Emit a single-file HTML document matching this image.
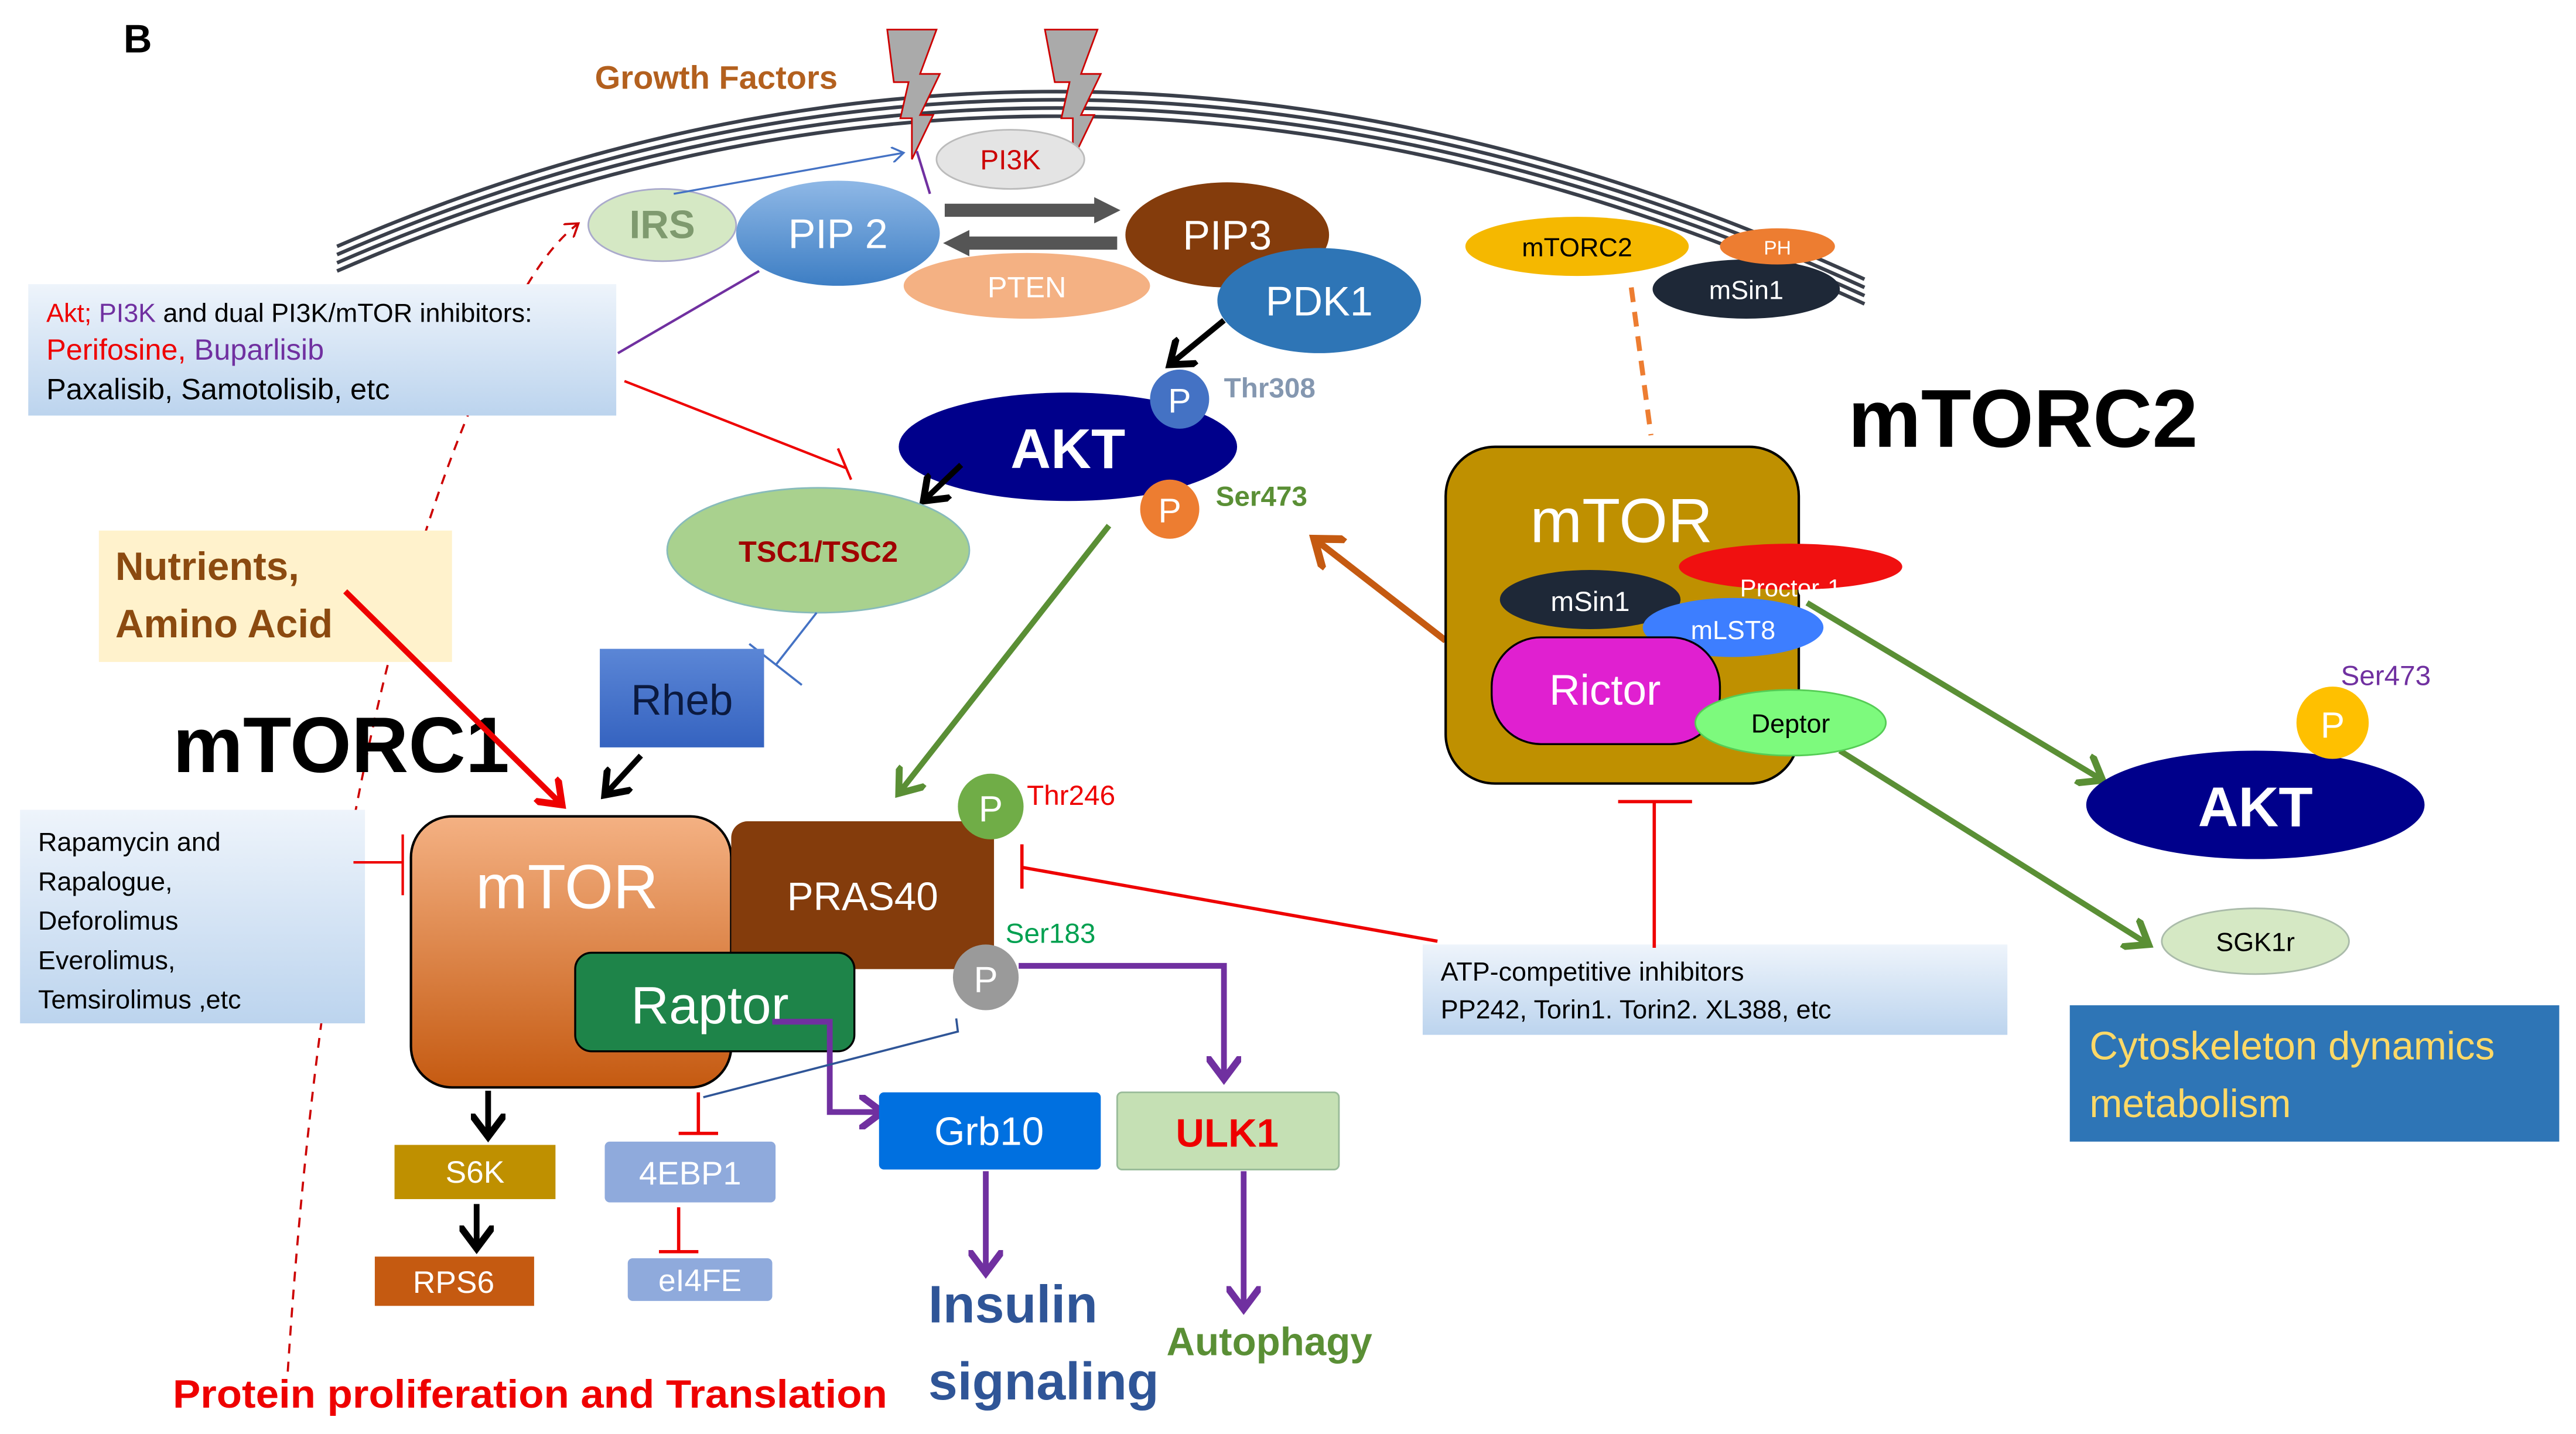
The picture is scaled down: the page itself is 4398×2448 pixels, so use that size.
<!DOCTYPE html>
<html><head><meta charset="utf-8"><style>
html,body{margin:0;padding:0;background:#fff}
svg{display:block}
text{font-family:"Liberation Sans",sans-serif}
</style></head><body>
<svg width="4398" height="2448" viewBox="0 0 1568 873" xmlns="http://www.w3.org/2000/svg">
<defs>
<marker id="ab" markerWidth="6" markerHeight="6" refX="4" refY="3" orient="auto" markerUnits="strokeWidth"><path d="M0,0 L4,3 L0,6" fill="none" stroke="#000" stroke-width="1.2"/></marker>
<marker id="ar" markerWidth="6" markerHeight="6" refX="4" refY="3" orient="auto" markerUnits="strokeWidth"><path d="M0,0 L4,3 L0,6" fill="none" stroke="#e00" stroke-width="1.2"/></marker>
<marker id="ag" markerWidth="6" markerHeight="6" refX="4" refY="3" orient="auto" markerUnits="strokeWidth"><path d="M0,0 L4,3 L0,6" fill="none" stroke="#5a8f35" stroke-width="1.2"/></marker>
<marker id="ap" markerWidth="6" markerHeight="6" refX="4" refY="3" orient="auto" markerUnits="strokeWidth"><path d="M0,0 L4,3 L0,6" fill="none" stroke="#7030a0" stroke-width="1.2"/></marker>
<marker id="ao" markerWidth="6" markerHeight="6" refX="4" refY="3" orient="auto" markerUnits="strokeWidth"><path d="M0,0 L4,3 L0,6" fill="none" stroke="#c55a11" stroke-width="1.2"/></marker>
<marker id="abl" markerWidth="8" markerHeight="8" refX="6" refY="4" orient="auto" markerUnits="strokeWidth"><path d="M0,0 L6,4 L0,8" fill="none" stroke="#4472c4" stroke-width="1"/></marker>
<marker id="ard" markerWidth="8" markerHeight="8" refX="6" refY="4" orient="auto" markerUnits="strokeWidth"><path d="M0,0 L6,4 L0,8" fill="none" stroke="#c00" stroke-width="1"/></marker>
<linearGradient id="lb" x1="0" y1="0" x2="0" y2="1"><stop offset="0" stop-color="#eef4fb"/><stop offset="1" stop-color="#bcd4ee"/></linearGradient>
<linearGradient id="mo" x1="0" y1="0" x2="0" y2="1"><stop offset="0" stop-color="#f4b183"/><stop offset="1" stop-color="#c55a11"/></linearGradient>
<linearGradient id="pb" x1="0" y1="0" x2="0" y2="1"><stop offset="0" stop-color="#8fb8e6"/><stop offset="1" stop-color="#3d7ec4"/></linearGradient>
<linearGradient id="rb" x1="0" y1="0" x2="0" y2="1"><stop offset="0" stop-color="#5b86d6"/><stop offset="1" stop-color="#3563c0"/></linearGradient>
</defs>

<text x="75" y="32" font-size="24" font-weight="bold">B</text>

<g fill="none" stroke="#3a3f4a" stroke-width="2.2">
<path d="M205,150 Q660,-48 1135,170"/>
<path d="M205,155 Q660,-43 1135,175"/>
<path d="M205,160 Q660,-38 1135,180"/>
<path d="M205,165 Q660,-33 1135,185"/>
</g>
<path d="M540,18 L570,18 L560,45 L572,45 L560,70 L568,70 L555,97 L555,72 L548,72 L553,50 L544,50 Z" fill="#aaa" stroke="#c00" stroke-width="1"/>
<path d="M636,18 L668,18 L658,45 L670,45 L658,70 L666,70 L653,97 L653,72 L646,72 L651,50 L642,50 Z" fill="#aaa" stroke="#c00" stroke-width="1"/>
<text x="362" y="54" font-size="20" font-weight="bold" fill="#b3601e">Growth Factors</text>

<ellipse cx="615" cy="97" rx="45" ry="18" fill="#e4e4e4" stroke="#bbb"/>
<text x="615" y="103" font-size="17" fill="#c00" text-anchor="middle">PI3K</text>
<ellipse cx="403" cy="137" rx="45" ry="22" fill="#d5e8c4" stroke="#aac"/>
<text x="403" y="145" font-size="24" font-weight="bold" fill="#7f9a6f" text-anchor="middle">IRS</text>
<ellipse cx="625" cy="174" rx="75" ry="20" fill="#f4b183"/>
<text x="625" y="181" font-size="18" fill="#fff" text-anchor="middle">PTEN</text>
<ellipse cx="510" cy="142" rx="62" ry="32" fill="url(#pb)"/>
<text x="510" y="151" font-size="25" fill="#fff" text-anchor="middle">PIP 2</text>
<path d="M575,128 L668,128" stroke="#555" stroke-width="8" fill="none"/><path d="M666,120 L682,128 L666,136 Z" fill="#555"/>
<path d="M588,148 L680,148" stroke="#555" stroke-width="8" fill="none"/><path d="M590,140 L574,148 L590,156 Z" fill="#555"/>
<ellipse cx="747" cy="143" rx="62" ry="32" fill="#843c0c"/>
<text x="747" y="152" font-size="25" fill="#fff" text-anchor="middle">PIP3</text>
<ellipse cx="803" cy="183" rx="62" ry="32" fill="#2e75b6"/>
<text x="803" y="192" font-size="25" fill="#fff" text-anchor="middle">PDK1</text>
<path d="M410,118 L550,93" stroke="#4472c4" stroke-width="1.2" marker-end="url(#abl)" fill="none"/>
<path d="M558,92 L566,118" stroke="#7030a0" stroke-width="1.5"/>

<path d="M175,835 Q200,450 290,240 Q320,160 352,136" fill="none" stroke="#c00" stroke-width="1.3" stroke-dasharray="6,5" marker-end="url(#ard)"/>

<rect x="17" y="173" width="358" height="80" fill="url(#lb)"/>
<text x="28" y="196" font-size="16"><tspan fill="#e00">Akt;</tspan> <tspan fill="#7030a0">PI3K</tspan> and dual PI3K/mTOR inhibitors:</text>
<text x="28" y="219" font-size="18" font-family="Liberation Serif,serif"><tspan fill="#e00">Perifosine,</tspan> <tspan fill="#7030a0">Buparlisib</tspan></text>
<text x="28" y="243" font-size="18" font-family="Liberation Serif,serif">Paxalisib, Samotolisib, etc</text>
<path d="M376,215 L462,165" stroke="#7030a0" stroke-width="1.5"/>
<path d="M380,232 L515,285" stroke="#e00" stroke-width="1.5"/><path d="M510,273 L518,292" stroke="#e00" stroke-width="1.5"/>

<path d="M993,175 L1005,265" stroke="#ed7d31" stroke-width="3" stroke-dasharray="9,6"/>
<ellipse cx="960" cy="150" rx="68" ry="18" fill="#f5b800"/>
<text x="960" y="156" font-size="16" text-anchor="middle">mTORC2</text>
<ellipse cx="1063" cy="176" rx="57" ry="18" fill="#1e2837"/>
<text x="1063" y="182" font-size="16" fill="#fff" text-anchor="middle">mSin1</text>
<ellipse cx="1082" cy="150" rx="35" ry="11" fill="#ed7d31"/>
<text x="1082" y="155" font-size="12" fill="#fff" text-anchor="middle">PH</text>
<text x="1125" y="272" font-size="50" font-weight="bold">mTORC2</text>

<path d="M745,195 L712,222" stroke="#000" stroke-width="3.5" marker-end="url(#ab)"/>
<ellipse cx="650" cy="272" rx="103" ry="33" fill="#00008b"/>
<text x="650" y="285" font-size="34" font-weight="bold" fill="#fff" text-anchor="middle">AKT</text>
<circle cx="718" cy="243" r="18" fill="#4472c4"/><text x="718" y="251" font-size="21" fill="#fff" text-anchor="middle">P</text>
<text x="745" y="242" font-size="17" font-weight="bold" fill="#8497b0">Thr308</text>
<circle cx="712" cy="310" r="18" fill="#ed7d31"/><text x="712" y="318" font-size="21" fill="#fff" text-anchor="middle">P</text>
<text x="740" y="308" font-size="17" font-weight="bold" fill="#5a8f35">Ser473</text>
<path d="M585,283 L562,305" stroke="#000" stroke-width="3.5" marker-end="url(#ab)"/>

<ellipse cx="498" cy="335" rx="92" ry="38" fill="#a9d18e" stroke="#8bb"/>
<text x="498" y="342" font-size="18" font-weight="bold" fill="#a00000" text-anchor="middle">TSC1/TSC2</text>
<path d="M497,373 L472,405" stroke="#4472c4" stroke-width="1.3"/><path d="M456,392 L488,417" stroke="#4472c4" stroke-width="1.3"/>

<rect x="365" y="395" width="100" height="60" fill="url(#rb)"/>
<text x="415" y="435" font-size="26" fill="#0b1a40" text-anchor="middle">Rheb</text>

<rect x="60" y="323" width="215" height="80" fill="#fff2cc"/>
<text x="70" y="353" font-size="24" font-weight="bold" fill="#8b4a10">Nutrients,</text>
<text x="70" y="388" font-size="24" font-weight="bold" fill="#8b4a10">Amino Acid</text>
<text x="105" y="470" font-size="48" font-weight="bold" textLength="205" lengthAdjust="spacingAndGlyphs">mTORC1</text>
<path d="M210,360 L342,490" stroke="#e00" stroke-width="3.5" marker-end="url(#ar)"/>
<path d="M390,460 L368,484" stroke="#000" stroke-width="3.5" marker-end="url(#ab)"/>

<rect x="12" y="493" width="210" height="130" fill="url(#lb)"/>
<g font-size="16">
<text x="23" y="518">Rapamycin and</text>
<text x="23" y="542">Rapalogue,</text>
<text x="23" y="566">Deforolimus</text>
<text x="23" y="590">Everolimus,</text>
<text x="23" y="614">Temsirolimus ,etc</text>
</g>
<path d="M215,525 L245,525 M245,508 L245,545" stroke="#e00" stroke-width="1.5"/>

<path d="M675,320 L547,483" stroke="#5a8f35" stroke-width="3.5" marker-end="url(#ag)"/>

<rect x="250" y="497" width="195" height="165" rx="25" fill="url(#mo)" stroke="#000" stroke-width="1.5"/>
<text x="345" y="553" font-size="38" fill="#fff" text-anchor="middle">mTOR</text>
<rect x="445" y="500" width="160" height="90" rx="10" fill="#843c0c"/>
<text x="525" y="554" font-size="24" fill="#fff" text-anchor="middle">PRAS40</text>
<rect x="350" y="580" width="170" height="60" rx="10" fill="#1e8449" stroke="#000" stroke-width="1.2"/>
<text x="432" y="623" font-size="32" fill="#fff" text-anchor="middle">Raptor</text>
<circle cx="603" cy="491" r="20" fill="#70ad47"/><text x="603" y="500" font-size="22" fill="#fff" text-anchor="middle">P</text>
<text x="625" y="490" font-size="17" fill="#e00">Thr246</text>
<circle cx="600" cy="595" r="20" fill="#9a9a9a"/><text x="600" y="604" font-size="22" fill="#fff" text-anchor="middle">P</text>
<text x="612" y="574" font-size="17" fill="#00a050">Ser183</text>

<path d="M875,573 L622,528 M622,514 L622,541" stroke="#e00" stroke-width="2"/>
<rect x="866" y="575" width="356" height="55" fill="url(#lb)"/>
<text x="877" y="597" font-size="16">ATP-competitive inhibitors</text>
<text x="877" y="620" font-size="16">PP242, Torin1. Torin2. XL388, etc</text>
<path d="M1007,577 L1007,488 M985,488 L1030,488" stroke="#e00" stroke-width="2"/>

<path d="M620,588 L745,588 L745,657" fill="none" stroke="#7030a0" stroke-width="3.5" marker-end="url(#ap)"/>
<path d="M470,622 L505,622 L505,677 L537,677" fill="none" stroke="#7030a0" stroke-width="3.5" marker-end="url(#ap)"/>
<path d="M582,620 L583,628 L428,668" fill="none" stroke="#2f5597" stroke-width="1.3"/>

<rect x="535" y="665" width="135" height="47" rx="3" fill="#0070e0"/>
<text x="602" y="697" font-size="24" fill="#fff" text-anchor="middle">Grb10</text>
<rect x="680" y="665" width="135" height="47" rx="3" fill="#c5e0b4" stroke="#9b9"/>
<text x="747" y="698" font-size="24" font-weight="bold" fill="#e00" text-anchor="middle">ULK1</text>
<path d="M600,713 L600,775" stroke="#7030a0" stroke-width="3.5" marker-end="url(#ap)"/>
<path d="M757,713 L757,797" stroke="#7030a0" stroke-width="3.5" marker-end="url(#ap)"/>
<text x="565" y="805" font-size="32" font-weight="bold" fill="#2f5597">Insulin</text>
<text x="565" y="852" font-size="32" font-weight="bold" fill="#2f5597">signaling</text>
<text x="710" y="825" font-size="24" font-weight="bold" fill="#5a8f35">Autophagy</text>

<path d="M297,664 L297,692" stroke="#000" stroke-width="3.5" marker-end="url(#ab)"/>
<rect x="240" y="697" width="98" height="33" fill="#bf9000"/>
<text x="289" y="720" font-size="19" fill="#fff" text-anchor="middle">S6K</text>
<path d="M290,733 L290,760" stroke="#000" stroke-width="3.5" marker-end="url(#ab)"/>
<rect x="228" y="765" width="97" height="30" fill="#c55a11"/>
<text x="276" y="787" font-size="19" fill="#fff" text-anchor="middle">RPS6</text>
<path d="M425,665 L425,690 M413,690 L437,690" stroke="#e00" stroke-width="2"/>
<rect x="368" y="695" width="104" height="37" rx="3" fill="#8faadc"/>
<text x="420" y="721" font-size="20" fill="#fff" text-anchor="middle">4EBP1</text>
<path d="M413,735 L413,762 M401,762 L425,762" stroke="#e00" stroke-width="2"/>
<rect x="382" y="766" width="88" height="26" rx="3" fill="#8faadc"/>
<text x="426" y="786" font-size="19" fill="#fff" text-anchor="middle">eI4FE</text>
<text x="105" y="857" font-size="24" font-weight="bold" fill="#e00" textLength="435" lengthAdjust="spacingAndGlyphs">Protein proliferation and Translation</text>

<path d="M880,390 L800,328" stroke="#c55a11" stroke-width="4" marker-end="url(#ao)"/>
<rect x="880" y="272" width="215" height="205" rx="30" fill="#bf9000" stroke="#000" stroke-width="1.5"/>
<text x="987" y="330" font-size="38" fill="#fff" text-anchor="middle">mTOR</text>
<ellipse cx="1090" cy="345" rx="68" ry="14" fill="#f01010"/>
<ellipse cx="968" cy="365" rx="55" ry="18" fill="#1e2837"/>
<text x="968" y="372" font-size="17" fill="#fff" text-anchor="middle">mSin1</text>
<ellipse cx="1055" cy="382" rx="55" ry="18" fill="#3d7eff"/>
<text x="1090" y="363" font-size="15" fill="#fff" text-anchor="middle">Proctor-1</text>
<text x="1055" y="389" font-size="16" fill="#fff" text-anchor="middle">mLST8</text>
<rect x="908" y="388" width="139" height="65" rx="30" fill="#e020d0" stroke="#000" stroke-width="1.2"/>
<text x="977" y="429" font-size="26" fill="#fff" text-anchor="middle">Rictor</text>
<path d="M1100,367 L1280,475" stroke="#5a8f35" stroke-width="3.5" marker-end="url(#ag)"/>
<path d="M1120,457 L1308,575" stroke="#5a8f35" stroke-width="3.5" marker-end="url(#ag)"/>
<ellipse cx="1090" cy="440" rx="58" ry="20" fill="#7dfa7d" stroke="#5c5"/>
<text x="1090" y="446" font-size="16" text-anchor="middle">Deptor</text>

<ellipse cx="1373" cy="490" rx="103" ry="33" fill="#00008b"/>
<text x="1373" y="503" font-size="34" font-weight="bold" fill="#fff" text-anchor="middle">AKT</text>
<circle cx="1420" cy="440" r="22" fill="#ffc000"/><text x="1420" y="449" font-size="22" fill="#fff" text-anchor="middle">P</text>
<text x="1425" y="417" font-size="17" fill="#7030a0">Ser473</text>
<ellipse cx="1373" cy="573" rx="57" ry="20" fill="#d5e8c4" stroke="#aba"/>
<text x="1373" y="579" font-size="16" text-anchor="middle">SGK1r</text>
<rect x="1260" y="612" width="298" height="83" fill="#2e75b6"/>
<text x="1272" y="645" font-size="24" fill="#ffd966">Cytoskeleton dynamics</text>
<text x="1272" y="680" font-size="24" fill="#ffd966">metabolism</text>
</svg>
</body></html>
